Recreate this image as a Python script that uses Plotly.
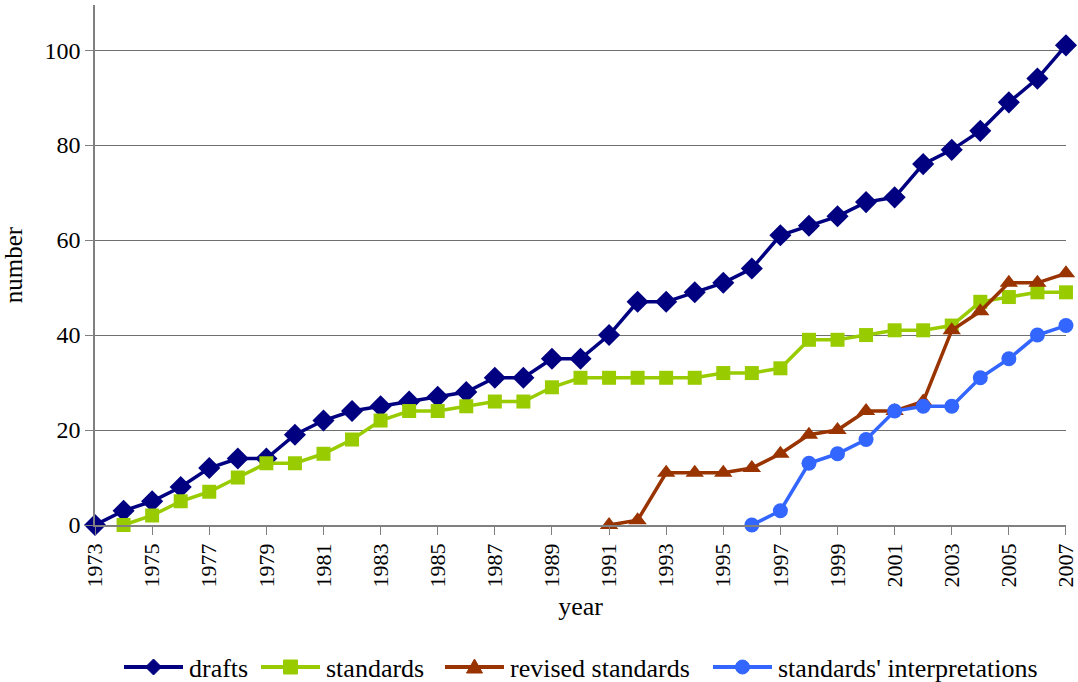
import plotly.graph_objects as go

years = list(range(1973, 2008))

drafts = [0, 3, 5, 8, 12, 14, 14, 19, 22, 24, 25, 26, 27, 28, 31, 31, 35, 35,
          40, 47, 47, 49, 51, 54, 61, 63, 65, 68, 69, 76, 79, 83, 89, 94, 101]

std_years = list(range(1974, 2008))
standards = [0, 2, 5, 7, 10, 13, 13, 15, 18, 22, 24, 24, 25, 26, 26, 29, 31,
             31, 31, 31, 31, 32, 32, 33, 39, 39, 40, 41, 41, 42, 47, 48, 49, 49]

rev_years = list(range(1991, 2008))
revised = [0, 1, 11, 11, 11, 12, 15, 19, 20, 24, 24, 26, 41, 45, 51, 51, 53]

int_years = list(range(1996, 2008))
interpretations = [0, 3, 13, 15, 18, 24, 25, 25, 31, 35, 40, 42]

tick_years = list(range(1973, 2008, 2))

FONT = "Times New Roman, Liberation Serif, serif"
W, H = 1078, 682
ML, MR, MT, MB = 95, 12, 5, 157
PW, PH = W - ML - MR, H - MT - MB


def px_x(px):
    return (px - ML) / PW


def px_y(py):
    return (H - MB - py) / PH


fig = go.Figure()

series = [
    ("drafts", years, drafts, "#000080", "diamond", 17),
    ("standards", std_years, standards, "#99CC00", "square", 14),
    ("revised standards", rev_years, revised, "#993300", "triangle-up", 16),
    ("standards' interpretations", int_years, interpretations, "#3366FF", "circle", 15),
]

for name, xs, ys, color, sym, size in series:
    fig.add_trace(go.Scatter(
        x=xs, y=ys, name=name, mode="lines+markers",
        line=dict(color=color, width=3.5),
        marker=dict(symbol=sym, size=size, color=color),
        cliponaxis=False, showlegend=False,
    ))

# custom legend (long sample lines like the reference)
legend_starts = [124, 261, 445, 713]
legend_y = 667
line_len = 59
shapes = []
annotations = []
for (name, _, _, color, sym, _), x0 in zip(series, legend_starts):
    xc = x0 + line_len / 2
    shapes.append(dict(type="line", xref="paper", yref="paper",
                       x0=px_x(x0), x1=px_x(x0 + line_len),
                       y0=px_y(legend_y), y1=px_y(legend_y),
                       line=dict(color=color, width=4)))
    common = dict(xref="paper", yref="paper", xsizemode="pixel", ysizemode="pixel",
                  xanchor=px_x(xc), yanchor=px_y(legend_y),
                  fillcolor=color, line=dict(color=color, width=1))
    if sym == "diamond":
        shapes.append(dict(type="path", path="M -8 0 L 0 8 L 8 0 L 0 -8 Z", **common))
    elif sym == "square":
        shapes.append(dict(type="rect", x0=-7, x1=7, y0=-7, y1=7, **common))
    elif sym == "triangle-up":
        shapes.append(dict(type="path", path="M -8 -6 L 8 -6 L 0 8 Z", **common))
    else:
        shapes.append(dict(type="circle", x0=-7, x1=7, y0=-7, y1=7, **common))
    annotations.append(dict(text=name, xref="paper", yref="paper",
                            x=px_x(x0 + line_len + 4), y=px_y(legend_y + 1),
                            xanchor="left", yanchor="middle", showarrow=False,
                            font=dict(family=FONT, size=26, color="black")))

fig.update_layout(
    width=W, height=H,
    margin=dict(l=ML, r=MR, t=MT, b=MB),
    paper_bgcolor="white", plot_bgcolor="white",
    font=dict(family=FONT, size=22, color="black"),
    showlegend=False,
    shapes=shapes,
    annotations=annotations,
)

fig.update_xaxes(
    range=[1972.999, 2007.001], tickmode="array", tickvals=tick_years,
    ticktext=[str(y) for y in tick_years], tickangle=-90,
    ticklabeloverflow="allow", automargin=False,
    showgrid=False, zeroline=False,
    showline=True, linecolor="#808080", linewidth=1.5,
    ticks="outside", ticklen=8, tickcolor="#808080",
    tickfont=dict(family=FONT, size=22),
    title=dict(text="year", font=dict(family=FONT, size=26), standoff=10),
)

fig.update_yaxes(
    range=[0, 109.5], tickmode="array", tickvals=[0, 20, 40, 60, 80, 100],
    automargin=False,
    showgrid=True, gridcolor="#707070", gridwidth=1,
    zeroline=False,
    showline=True, linecolor="#808080", linewidth=1.5,
    ticks="outside", ticklen=8, tickcolor="#808080",
    tickfont=dict(family=FONT, size=24),
    title=dict(text="number", font=dict(family=FONT, size=25), standoff=20),
)

fig.write_html("out.html")
